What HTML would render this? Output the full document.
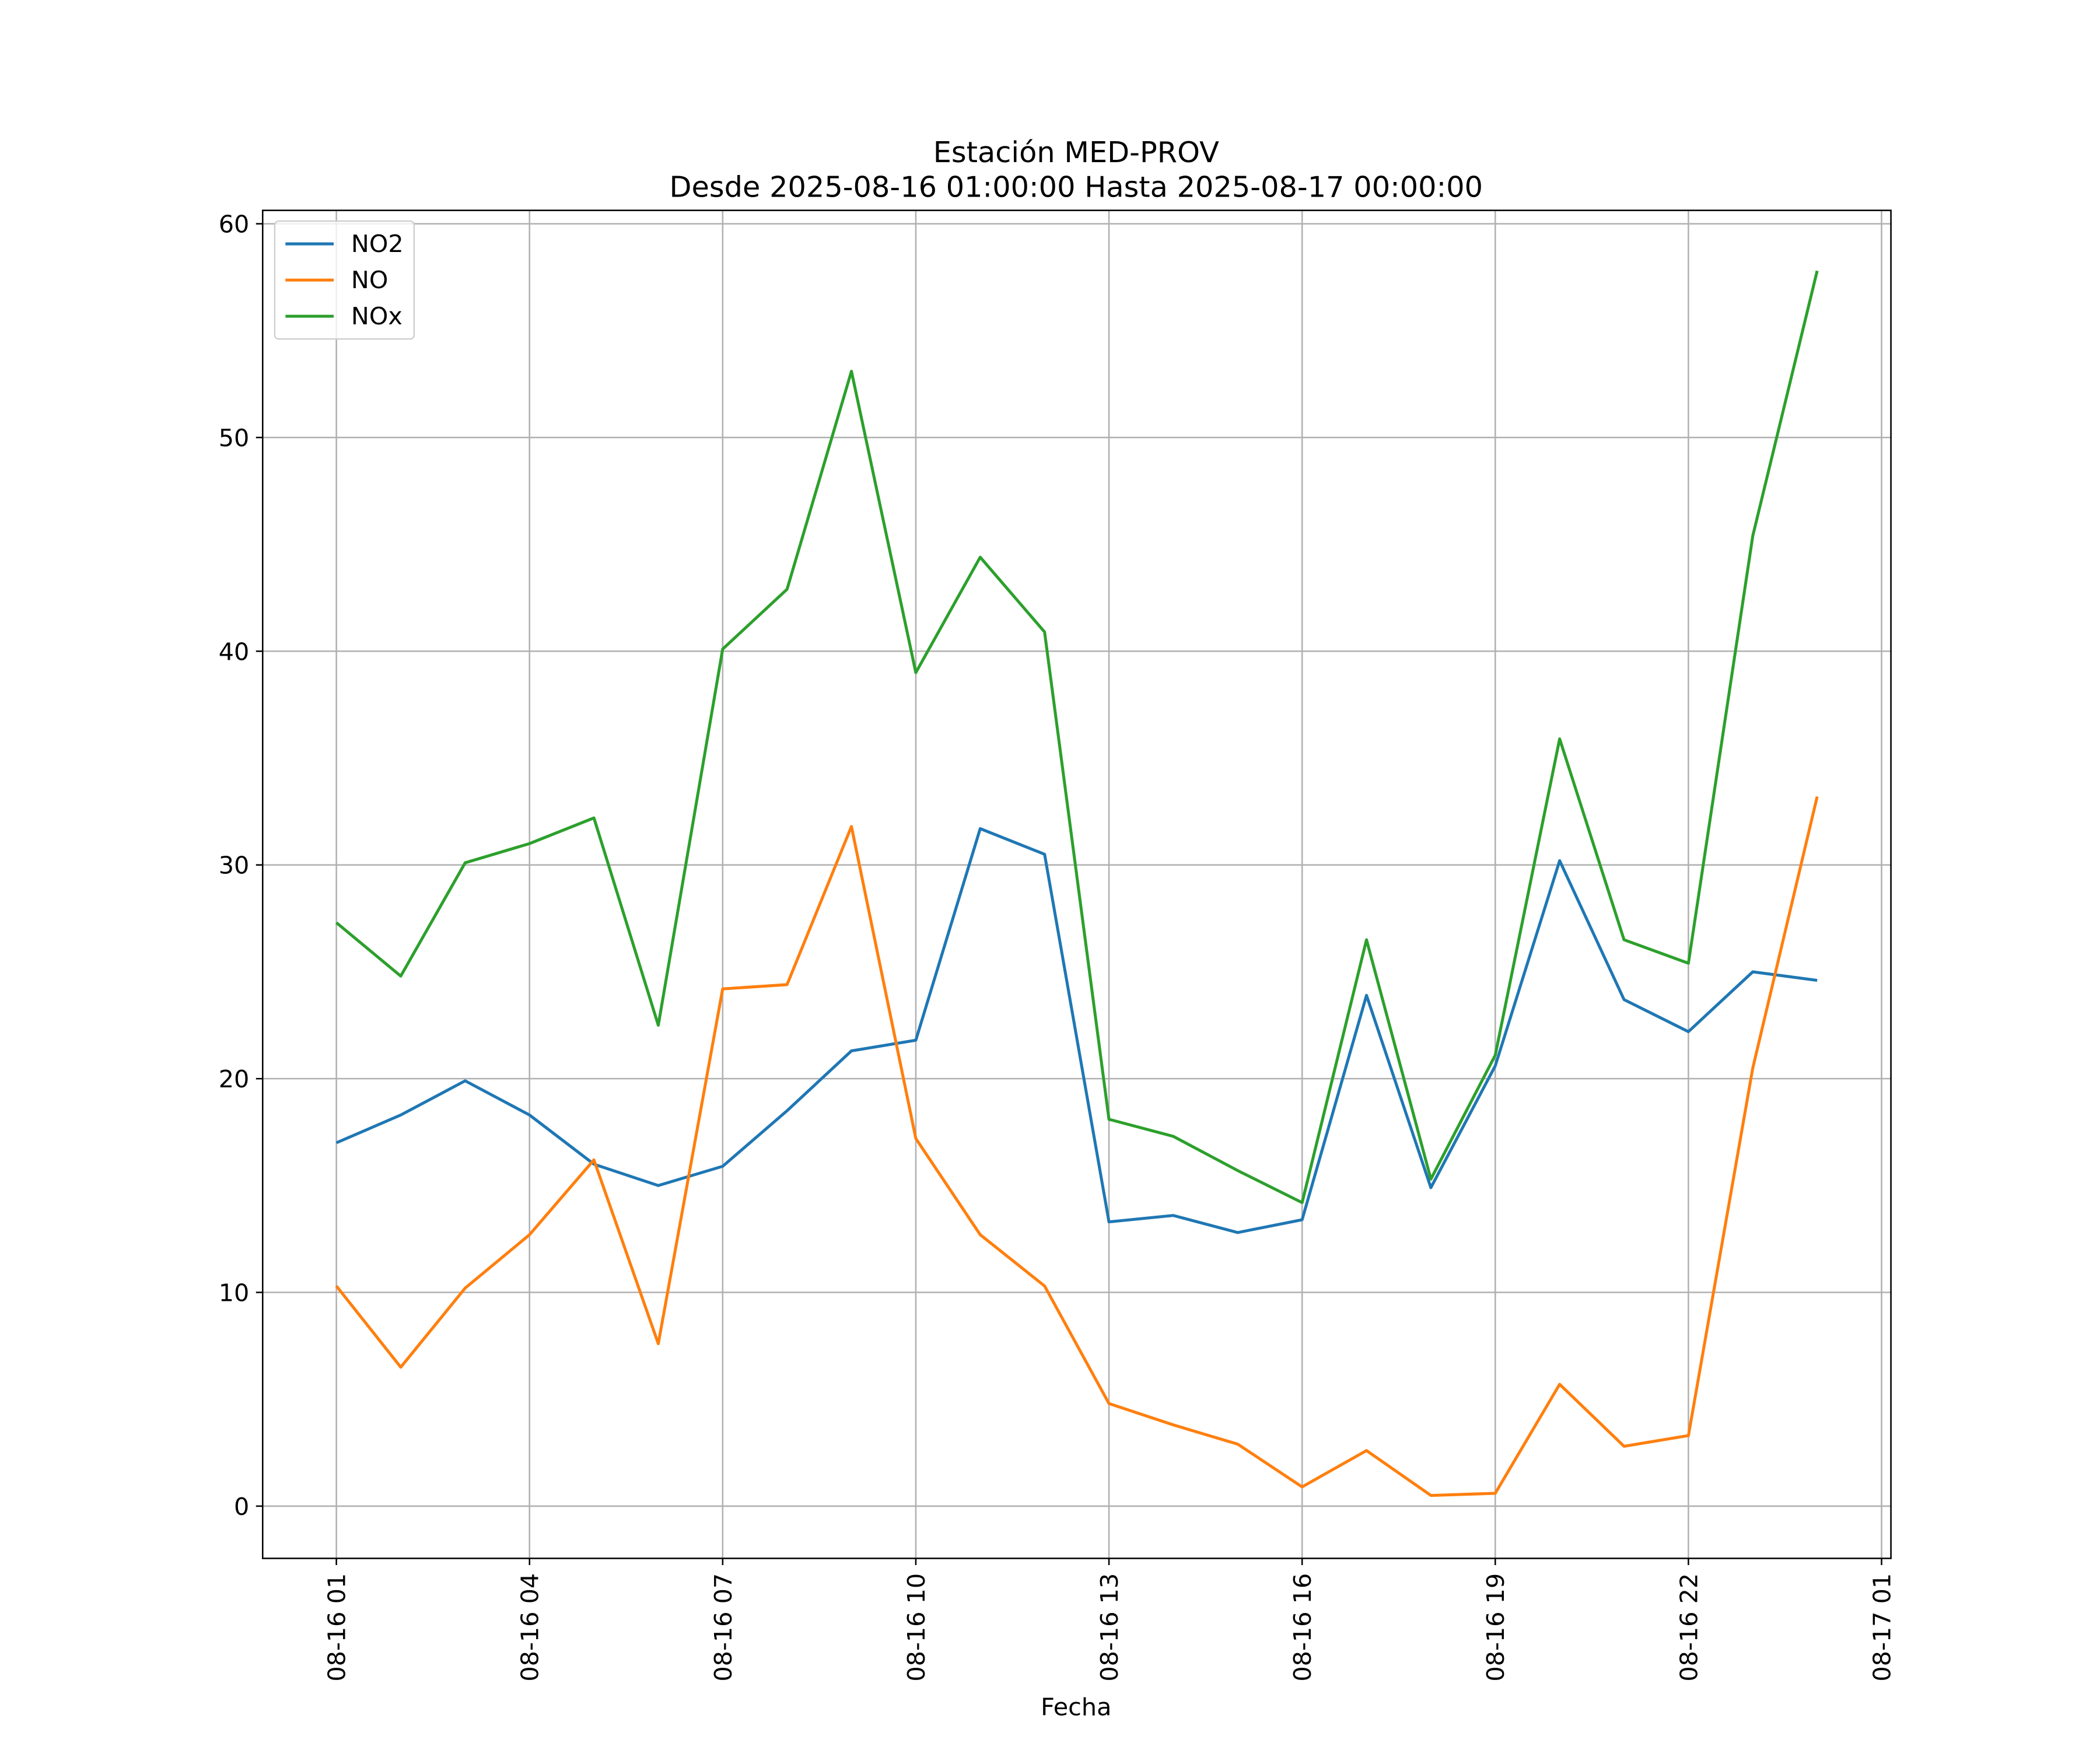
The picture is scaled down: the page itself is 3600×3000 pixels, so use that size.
<!DOCTYPE html>
<html><head><meta charset="utf-8"><style>html,body{margin:0;padding:0;background:#fff}svg{display:block}text{font-family:"DejaVu Sans","Liberation Sans",sans-serif;fill:#000}</style></head>
<body>
<svg id="chart" width="3600" height="3000" viewBox="0 0 1567 1306" preserveAspectRatio="none" xmlns="http://www.w3.org/2000/svg">
<rect width="1567" height="1306" fill="#fff"/>
<g id="grid"></g>
<g id="series"></g>
<rect x="196" y="157" width="1215" height="1006" fill="none" stroke="#000" stroke-width="1.1"/>
<g id="ticks"></g>
<text x="803" y="121" text-anchor="middle" font-size="21.5">Estación MED-PROV</text>
<text x="803" y="147" text-anchor="middle" font-size="21.5">Desde 2025-08-16 01:00:00 Hasta 2025-08-17 00:00:00</text>
<text x="803" y="1280" text-anchor="middle" font-size="18">Fecha</text>
<g>
<rect x="205" y="165" width="104" height="88" rx="3" fill="#fff" fill-opacity="0.8" stroke="#ccc"/>
<line x1="213" y1="182" x2="249" y2="182" stroke="#1f77b4" stroke-width="2.2"/><text x="262" y="188" font-size="18">NO2</text>
<line x1="213" y1="209" x2="249" y2="209" stroke="#ff7f0e" stroke-width="2.2"/><text x="262" y="215" font-size="18">NO</text>
<line x1="213" y1="236" x2="249" y2="236" stroke="#2ca02c" stroke-width="2.2"/><text x="262" y="242" font-size="18">NOx</text>
</g>
</svg>
<script>
const hours = [0,1,2,3,4,5,6,7,8,9,10,11,12,13,14,15,16,17,18,19,20,21,22,23];
const no2 = [17.0,18.3,19.9,18.3,16.0,15.0,15.9,18.5,21.3,21.8,31.7,30.5,13.3,13.6,12.8,13.4,23.9,14.9,20.6,30.2,23.7,22.2,25.0,24.6];
const no = [10.3,6.5,10.2,12.7,16.2,7.6,24.2,24.4,31.8,17.2,12.7,10.3,4.8,3.8,2.9,0.9,2.6,0.5,0.6,5.7,2.8,3.3,20.5,33.2];
const nox = [27.3,24.8,30.1,31.0,32.2,22.5,40.1,42.9,53.1,39.0,44.4,40.9,18.1,17.3,15.7,14.2,26.5,15.3,21.1,35.9,26.5,25.4,45.4,57.8];
const yTicks = [0,10,20,30,40,50,60];
const xTickHours = [0,3,6,9,12,15,18,21,24];
const xTickLabels = ["08-16 01","08-16 04","08-16 07","08-16 10","08-16 13","08-16 16","08-16 19","08-16 22","08-17 01"];

const NS="http://www.w3.org/2000/svg";
const xs = h => 251 + h*(1153/24);
const ys = v => 1124 - v*(957/60);
function mk(tag, attrs, parent){const e=document.createElementNS(NS,tag);for(const k in attrs)e.setAttribute(k,attrs[k]);parent.appendChild(e);return e;}
const grid=document.getElementById('grid'), ticks=document.getElementById('ticks'), series=document.getElementById('series');
yTicks.forEach(v=>{
  const y=ys(v);
  const g=mk('line',{x1:196,x2:1411,y1:y,y2:y,stroke:'#b0b0b0','stroke-width':1.1},grid);
  
  
  mk('line',{x1:191,x2:196,y1:y,y2:y,stroke:'#000','stroke-width':1.1},ticks);
  const t=mk('text',{x:186,y:y+6.5,'text-anchor':'end','font-size':18},ticks);
  t.textContent=v;
  
  
});
xTickHours.forEach((h,i)=>{
  const x=xs(h);
  const g=mk('line',{x1:x,x2:x,y1:157,y2:1163,stroke:'#b0b0b0','stroke-width':1.1},grid);
  
  
  mk('line',{x1:x,x2:x,y1:1163,y2:1168,stroke:'#000','stroke-width':1.1},ticks);
  const t=mk('text',{x:0,y:0,'text-anchor':'end','font-size':18,transform:`translate(${x+6.5},1174) rotate(-90)`},ticks);
  t.textContent=xTickLabels[i];
  
  
});
[[no2,'#1f77b4','line-no2'],[no,'#ff7f0e','line-no'],[nox,'#2ca02c','line-nox']].forEach(([d,c,n])=>{
  const p=mk('polyline',{points:d.map((v,i)=>xs(hours[i])+','+ys(v)).join(' '),fill:'none',stroke:c,'stroke-width':2.2,'stroke-linejoin':'round'},series);
  
  
});
</script>
</body></html>
